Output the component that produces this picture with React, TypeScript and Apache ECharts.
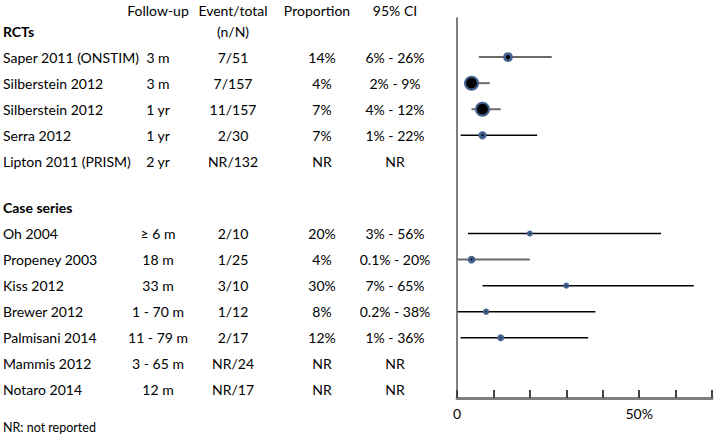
import React, { useEffect, useRef } from "react";
import * as echarts from "echarts";

// ---------- data ----------
const studies = [
  "Saper 2011 (ONSTIM)",
  "Silberstein 2012",
  "Silberstein 2012",
  "Serra 2012",
  "Lipton 2011 (PRISM)",
  "Oh 2004",
  "Propeney 2003",
  "Kiss 2012",
  "Brewer 2012",
  "Palmisani 2014",
  "Mammis 2012",
  "Notaro 2014",
];
const groups = ["RCT", "RCT", "RCT", "RCT", "RCT", "Case", "Case", "Case", "Case", "Case", "Case", "Case"];
const followUp = ["3 m", "3 m", "1 yr", "1 yr", "2 yr", "\u2265 6 m", "18 m", "33 m", "1 - 70 m", "11 - 79 m", "3 - 65 m", "12 m"];
const events: (number | null)[] = [7, 7, 11, 2, null, 2, 1, 3, 1, 2, null, null];
const totals = [51, 157, 157, 30, 132, 10, 25, 10, 12, 17, 24, 17];
const proportion: (number | null)[] = [14, 4, 7, 7, null, 20, 4, 30, 8, 12, null, null];
const ciLow: (number | null)[] = [6, 2, 4, 1, null, 3, 0.1, 7, 0.2, 1, null, null];
const ciHigh: (number | null)[] = [26, 9, 12, 22, null, 56, 20, 65, 38, 36, null, null];
const groupTitles = { RCT: "RCTs", Case: "Case series" };
const columnHeaders = ["Follow-up", "Event/total", "Proportion", "95% CI"];
const xTickLabels: Record<number, string> = { 0: "0", 50: "50%" };
const footnote = "NR: not reported";

// ---------- layout / style ----------
const FONT = "Lato";
const FS = 14;
const SECTION_GAP = 0.77;
const Y_MIN = -14.08;
const Y_MAX = 0.5;
const COL = { name: 3, follow: 158, events: 233, prop: 322, propHead: 317, ci: 395 };
const BLUE = "#426290";
const GREY_LINE = "#6a6a6a";
const AXIS_GREY = "#7f7f7f";
const greyCiRows = [0, 1, 2, 6];

function rowY(i: number): number {
  if (groups[i] === "RCT") return i + 1;
  return i + 2 + SECTION_GAP;
}

function markerSize(n: number): number {
  return 3 + 0.96 * Math.sqrt(n);
}
function innerSize(n: number): number {
  const s = markerSize(n);
  return Math.max(1.2, 1.25 * s - 8);
}

export default function App() {
  const ref = useRef<HTMLDivElement>(null);

  useEffect(() => {
    if (!ref.current) return;
    const chart = echarts.init(ref.current, null, { renderer: "svg" });

    const fmtPct = (v: number | null) => (v == null ? "NR" : `${v}%`);

    type Cell = { x: number; text: string; align: string; bold?: boolean };
    const tableRows: { y: number; cells: Cell[] }[] = [];
    tableRows.push({
      y: -0.8,
      cells: [
        { x: COL.follow, text: columnHeaders[0], align: "center" },
        { x: COL.events, text: columnHeaders[1], align: "center" },
        { x: COL.propHead, text: columnHeaders[2], align: "center" },
        { x: COL.ci, text: columnHeaders[3], align: "center" },
      ],
    });
    tableRows.push({
      y: 0,
      cells: [
        { x: COL.name, text: groupTitles.RCT, align: "left", bold: true },
        { x: COL.events, text: "(n/N)", align: "center" },
      ],
    });
    const firstCase = groups.indexOf("Case");
    tableRows.push({
      y: rowY(firstCase) - 1,
      cells: [{ x: COL.name, text: groupTitles.Case, align: "left", bold: true }],
    });
    studies.forEach((s, i) => {
      const ci =
        ciLow[i] == null || ciHigh[i] == null ? "NR" : `${ciLow[i]}% - ${ciHigh[i]}%`;
      tableRows.push({
        y: rowY(i),
        cells: [
          { x: COL.name, text: s, align: "left" },
          { x: COL.follow, text: followUp[i], align: "center" },
          { x: COL.events, text: `${events[i] == null ? "NR" : events[i]}/${totals[i]}`, align: "center" },
          { x: COL.prop, text: fmtPct(proportion[i]), align: "center" },
          { x: COL.ci, text: ci, align: "center" },
        ],
      });
    });

    const estIdx = studies.map((_, i) => i).filter((i) => proportion[i] != null);
    const ciData = estIdx.map((i) => [ciLow[i], ciHigh[i], -rowY(i), i]);
    const outerData = estIdx.map((i) => [proportion[i], -rowY(i), markerSize(totals[i])]);
    const innerData = estIdx.map((i) => [proportion[i], -rowY(i), innerSize(totals[i])]);

    chart.setOption({
      animation: false,
      backgroundColor: "#ffffff",
      textStyle: { fontFamily: FONT },
      grid: { left: 457, right: 4, top: 18, bottom: 40 },
      xAxis: {
        type: "value",
        min: 0,
        max: 70,
        interval: 10,
        axisLine: { show: true, onZero: false, lineStyle: { color: AXIS_GREY, width: 3 } },
        axisTick: { show: true, inside: true, length: 8, lineStyle: { color: "#444444", width: 2 } },
        splitLine: { show: false },
        axisLabel: {
          formatter: (v: number) => xTickLabels[v] ?? "",
          color: "#000",
          fontFamily: FONT,
          fontSize: FS,
          margin: 8,
        },
      },
      yAxis: {
        type: "value",
        min: Y_MIN,
        max: Y_MAX,
        axisLine: { show: true, onZero: false, lineStyle: { color: AXIS_GREY, width: 2 } },
        axisTick: { show: false },
        axisLabel: { show: false },
        splitLine: { show: false },
      },
      series: [
        {
          type: "custom",
          name: "ci",
          clip: false,
          silent: true,
          encode: { x: [0, 1], y: 2 },
          data: ciData,
          renderItem: (params: any, api: any) => {
            const i = api.value(3);
            const p1 = api.coord([api.value(0), api.value(2)]);
            const p2 = api.coord([api.value(1), api.value(2)]);
            const grey = greyCiRows.includes(i);
            return {
              type: "line",
              shape: { x1: p1[0], y1: p1[1], x2: p2[0], y2: p2[1] },
              style: { stroke: grey ? GREY_LINE : "#000", lineWidth: grey ? 2 : 1.5 },
            };
          },
          z: 2,
        },
        {
          type: "scatter",
          name: "estimate",
          data: outerData,
          symbol: "circle",
          symbolSize: (v: number[]) => v[2],
          itemStyle: { color: BLUE, opacity: 1 },
          silent: true,
          z: 3,
        },
        {
          type: "scatter",
          name: "estimate-dot",
          data: innerData,
          symbol: "circle",
          symbolSize: (v: number[]) => v[2],
          itemStyle: { color: "#000", opacity: 1 },
          silent: true,
          z: 4,
        },
        {
          type: "custom",
          name: "table",
          clip: false,
          silent: true,
          encode: { x: 0, y: 1 },
          data: tableRows.map((r) => [0, -r.y]),
          renderItem: (params: any, api: any) => {
            const row = tableRows[params.dataIndex];
            const y = api.coord([0, -row.y])[1];
            return {
              type: "group",
              children: row.cells.map((c) => ({
                type: "text",
                x: c.x,
                y,
                style: {
                  text: c.text,
                  fill: "#000",
                  fontFamily: FONT,
                  fontSize: FS,
                  fontWeight: c.bold ? "bold" : "normal",
                  align: c.align,
                  verticalAlign: "middle",
                },
              })),
            };
          },
          z: 5,
        },
      ],
      graphic: [
        {
          type: "text",
          left: 3,
          top: 421,
          style: { text: footnote, fill: "#000", fontFamily: FONT, fontSize: 12.5 },
        },
      ],
    });

    return () => chart.dispose();
  }, []);

  return (
    <div
      ref={ref}
      style={{ position: "fixed", left: 0, top: 0, width: 716, height: 438, background: "#fff" }}
    />
  );
}
